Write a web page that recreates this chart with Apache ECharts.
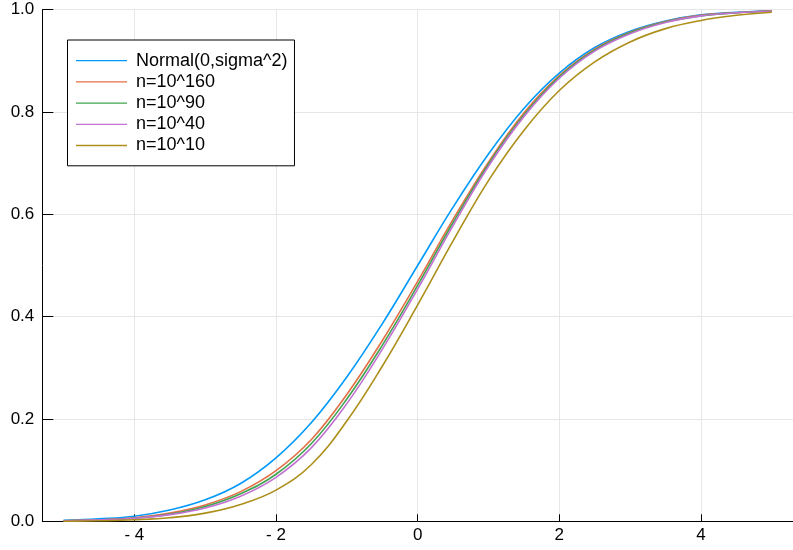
<!DOCTYPE html>
<html>
<head>
<meta charset="utf-8">
<script src="https://cdn.jsdelivr.net/npm/echarts@6/dist/echarts.min.js"></script>
<style>
html,body{margin:0;padding:0;background:#fff;}
#chart{width:793px;height:550px;}
</style>
</head>
<body>
<div id="chart"></div>
<script>
// x positions where curves were read
var xs = [-5, -4.5, -4, -3.5, -3, -2.5, -2, -1.5, -1, -0.5, 0, 0.5, 1, 1.5, 2, 2.5, 3, 3.5, 4, 4.5, 5];
var seriesNames = ["Normal(0,sigma^2)", "n=10^160", "n=10^90", "n=10^40", "n=10^10"];
var normalCdf = [0.002, 0.005, 0.010, 0.022, 0.042, 0.074, 0.124, 0.193, 0.282, 0.386, 0.500, 0.614, 0.718, 0.807, 0.876, 0.926, 0.958, 0.978, 0.990, 0.995, 0.998];
var n160 = [0.001, 0.003, 0.007, 0.016, 0.032, 0.058, 0.099, 0.160, 0.248, 0.353, 0.469, 0.590, 0.702, 0.798, 0.871, 0.923, 0.956, 0.977, 0.989, 0.994, 0.998];
var n90 = [0.001, 0.003, 0.006, 0.014, 0.029, 0.054, 0.092, 0.152, 0.239, 0.344, 0.461, 0.584, 0.698, 0.794, 0.869, 0.921, 0.955, 0.976, 0.988, 0.994, 0.997];
var n40 = [0.001, 0.003, 0.006, 0.013, 0.026, 0.049, 0.086, 0.144, 0.230, 0.336, 0.454, 0.578, 0.694, 0.791, 0.866, 0.919, 0.953, 0.975, 0.988, 0.994, 0.997];
var n10 = [0.000, 0.001, 0.003, 0.007, 0.016, 0.033, 0.061, 0.111, 0.196, 0.303, 0.423, 0.548, 0.666, 0.764, 0.842, 0.898, 0.937, 0.963, 0.979, 0.989, 0.995];
var colors = ["#009AFA", "#E36F47", "#3EA44E", "#C371D2", "#AC8E18"];
var yTicks = [0, 0.2, 0.4, 0.6, 0.8, 1.0];

var allY = [normalCdf, n160, n90, n40, n10];
var font = "'Liberation Sans', Arial, Helvetica, sans-serif";

function pairs(ys) {
  return xs.map(function (x, i) { return [x, ys[i]]; });
}

var chart = echarts.init(document.getElementById('chart'), null, {renderer: 'canvas'});
var option = {
  animation: false,
  backgroundColor: '#fff',
  textStyle: {fontFamily: font},
  grid: {left: 42.3, top: 9.7, width: 760.3, height: 511.6, containLabel: false},
  xAxis: {
    type: 'value',
    min: -5.3,
    max: 5.3,
    axisLine: {show: true, onZero: false, lineStyle: {color: '#000', width: 1}},
    axisTick: {show: true, inside: true, length: 7, lineStyle: {color: '#000', width: 1}},
    axisLabel: {
      show: true, color: '#000', fontSize: 17, fontFamily: font, margin: 6,
      showMinLabel: false, showMaxLabel: false,
      formatter: function (v) {
        if (Math.abs(v - Math.round(v)) > 1e-6) return '';
        return v < 0 ? '- ' + (-v) : String(v);
      }
    },
    splitLine: {show: true, lineStyle: {color: '#e6e6e6', width: 1}}
  },
  yAxis: {
    type: 'value',
    min: yTicks[0],
    max: yTicks[yTicks.length - 1],
    interval: 0.2,
    axisLine: {show: true, onZero: false, lineStyle: {color: '#000', width: 1}},
    axisTick: {show: true, inside: true, length: 11, lineStyle: {color: '#000', width: 1}},
    axisLabel: {
      show: true, color: '#000', fontSize: 17, fontFamily: font, margin: 8,
      formatter: function (v) { return v.toFixed(1); }
    },
    splitLine: {show: true, lineStyle: {color: '#e6e6e6', width: 1}}
  },
  legend: {
    show: true,
    orient: 'vertical',
    left: 67.5,
    top: 40,
    padding: [11.7, 7, 11.3, 8.5],
    backgroundColor: '#fff',
    borderColor: '#000',
    borderWidth: 1,
    itemWidth: 51,
    itemHeight: 14,
    itemGap: 3.2,
    icon: 'path://M0,0H51V1.3H0Z',
    textStyle: {color: '#000', fontSize: 18, fontFamily: font, lineHeight: 18, padding: [0, 0, 0, 4]},
    data: seriesNames
  },
  series: seriesNames.map(function (name, i) {
    return {
      name: name,
      type: 'line',
      data: pairs(allY[i]),
      smooth: 0.4,
      symbol: 'none',
      showSymbol: false,
      clip: true,
      lineStyle: {color: colors[i], width: 1.6},
      itemStyle: {color: colors[i]}
    };
  })
};
chart.setOption(option);
</script>
</body>
</html>
